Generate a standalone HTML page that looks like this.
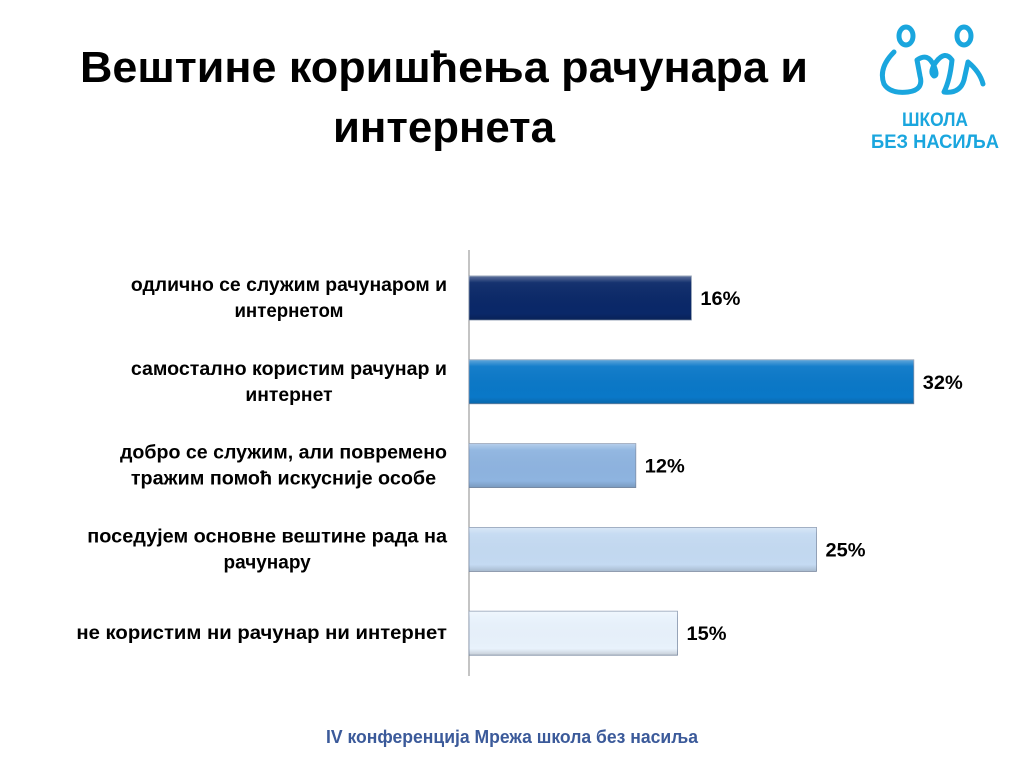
<!DOCTYPE html>
<html><head><meta charset="utf-8"><style>
html,body{margin:0;padding:0;background:#fff;}
svg{display:block;font-family:"Liberation Sans",sans-serif;font-weight:bold;}
</style></head><body>
<svg width="1024" height="768" viewBox="0 0 1024 768">
<defs>
<linearGradient id="sheen" x1="0" y1="0" x2="0" y2="1">
<stop offset="0" stop-color="#fff" stop-opacity="0.35"/>
<stop offset="0.15" stop-color="#fff" stop-opacity="0.05"/>
<stop offset="0.85" stop-color="#000" stop-opacity="0"/>
<stop offset="1" stop-color="#000" stop-opacity="0.15"/>
</linearGradient>
</defs>
<g font-size="44" fill="#000" text-anchor="middle">
<text x="444" y="82" textLength="728" lengthAdjust="spacingAndGlyphs">Вештине коришћења рачунара и</text>
<text x="444" y="142" textLength="222" lengthAdjust="spacingAndGlyphs">интернета</text>
</g>
<g fill="none" stroke="#1aa6de" stroke-width="5" stroke-linecap="round" stroke-linejoin="round">
<ellipse cx="906" cy="36" rx="7" ry="9"/>
<ellipse cx="964" cy="36" rx="7" ry="9"/>
<path d="M894 52 Q878 68 884 84 Q890 94 908 92 Q924 90 920 76 L917 60 Q928 52 934 66 Q938 76 934 76 Q929 72 936 62 Q945 50 952 60 Q950 80 944 92 Q960 94 964 80 L968 62 Q980 72 983 84"/>
<text x="935" y="126" font-size="19" fill="#1aa6de" stroke="none" text-anchor="middle" textLength="66" lengthAdjust="spacingAndGlyphs">ШКОЛА</text>
<text x="935" y="148" font-size="19" fill="#1aa6de" stroke="none" text-anchor="middle" textLength="128" lengthAdjust="spacingAndGlyphs">БЕЗ НАСИЉА</text>
</g>
<line x1="469" y1="250" x2="469" y2="676" stroke="#888" stroke-width="1"/>
<g id="chart"></g>
<text x="512" y="743" font-size="18" fill="#3b5a9a" text-anchor="middle" textLength="372" lengthAdjust="spacingAndGlyphs">IV конференција Мрежа школа без насиља</text>
</svg>
<script>
const categories=[["одлично се служим рачунаром и","интернетом"],["самостално користим рачунар и","интернет"],["добро се служим, али повремено","тражим помоћ искусније особе"],["поседујем основне вештине рада на","рачунару"],["не користим ни рачунар ни интернет"]];
const values=[16,32,12,25,15];
const valueLabels=["16%","32%","12%","25%","15%"];
const colors=["#0a2868","#0a78c8","#8eb4e0","#c4daf2","#e8f2fc"];
const x0=469,scale=13.9,top0=298,step=83.8,barH=44;
const xs=v=>x0+v*scale, yc=i=>top0+i*step;
const g=document.getElementById('chart');
const NS="http://www.w3.org/2000/svg";
function mk(t,a){const e=document.createElementNS(NS,t);for(const k in a)e.setAttribute(k,a[k]);g.appendChild(e);return e;}
values.forEach((v,i)=>{
 const y=yc(i)-barH/2;
 const r=mk('rect',{x:x0,y:y,width:xs(v)-x0,height:barH,fill:colors[i],stroke:'#7f8fa8','stroke-width':0.8});
 
 
 const s=mk('rect',{x:x0,y:y,width:xs(v)-x0,height:barH,fill:'url(#sheen)'});
 
 
 const t=mk('text',{x:xs(v)+9,y:yc(i)+7,'font-size':19,fill:'#000',textLength:40,lengthAdjust:'spacingAndGlyphs'});
 t.textContent=valueLabels[i];
 
 
 const lines=categories[i];
 const lens=lines.map(l=>l.length*10.9);
 const w=Math.max(...lens);
 const cx=447-w/2;
 lines.forEach((l,j)=>{
  const yy=yc(i)+6+(j-(lines.length-1)/2)*26;
  const lt=mk('text',{x:cx,y:yy,'font-size':19,fill:'#000','text-anchor':'middle',textLength:lens[j],lengthAdjust:'spacingAndGlyphs'});
  lt.textContent=l;
  
  
 });
});
</script>
</body></html>
